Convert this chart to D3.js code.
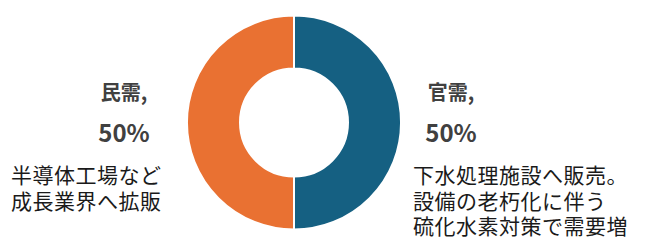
<!DOCTYPE html>
<html>
<head>
<meta charset="utf-8">
<script src="https://cdn.jsdelivr.net/npm/d3@7.9.0/dist/d3.min.js"></script>
<style>
  html, body { margin: 0; padding: 0; background: #fff; }
  #chart { position: relative; width: 648px; height: 246px; }
  svg { display: block; font-family: "Noto Sans CJK JP", "Noto Sans", sans-serif; }
  .note {
    position: absolute;
    font-family: "Noto Sans CJK JP", "Noto Sans", sans-serif;
    font-size: 21px;
    line-height: 25.5px;
    letter-spacing: 0.5px;
    color: #1a1a1a;
    white-space: pre;
  }
</style>
</head>
<body>
<div id="chart"></div>
<script>
// ─── data ─────────────────────────────────────────────
const categories = ['官需', '民需'];
const shares     = [50, 50];
const colors     = ['#156082', '#E97132'];
const notes = [
  ['下水処理施設へ販売。', '設備の老朽化に伴う', '硫化水素対策で需要増'],
  ['半導体工場など', '成長業界へ拡販']
];

// ─── layout ───────────────────────────────────────────
const W = 648, H = 246;
const CX = 294, CY = 122.5, R_OUT = 107, R_IN = 54;

const container = d3.select('#chart');
const svg = container.append('svg')
  .attr('width', W).attr('height', H);

const rows = categories.map((c, i) => ({ cat: c, val: shares[i], color: colors[i], note: notes[i] }));

const pie = d3.pie().sort(null).value(d => d.val);
const arc = d3.arc().innerRadius(R_IN).outerRadius(R_OUT);

const g = svg.append('g').attr('transform', `translate(${CX},${CY})`);

g.selectAll('path')
  .data(pie(rows))
  .join('path')
    .attr('d', arc)
    .attr('fill', d => d.data.color)
    .attr('stroke', '#fff')
    .attr('stroke-width', 2);

// label placement (per slice): centre x of the bold label, left x of the note
const labelPos = [
  { cx: 451, noteX: 413 },   // 官需 (right)
  { cx: 124, noteX: 11 }     // 民需 (left)
];

rows.forEach((d, i) => {
  const p = labelPos[i];
  svg.append('text')
    .attr('x', p.cx).attr('y', 100)
    .attr('text-anchor', 'middle')
    .attr('fill', '#404040')
    .style('font-weight', 'bold')
    .style('font-size', '20px')
    .text(d.cat + ',');
  svg.append('text')
    .attr('x', p.cx).attr('y', 142)
    .attr('text-anchor', 'middle')
    .attr('fill', '#404040')
    .style('font-weight', 'bold')
    .style('font-size', '24px')
    .text(d3.format('.0f')(d.val) + '%');

  // multi-line note as one block so the lines share a single line box
  container.append('div')
    .attr('class', 'note')
    .style('left', p.noteX + 'px')
    .style('top', '162px')
    .text(d.note.join('\n'));
});
</script>
</body>
</html>
